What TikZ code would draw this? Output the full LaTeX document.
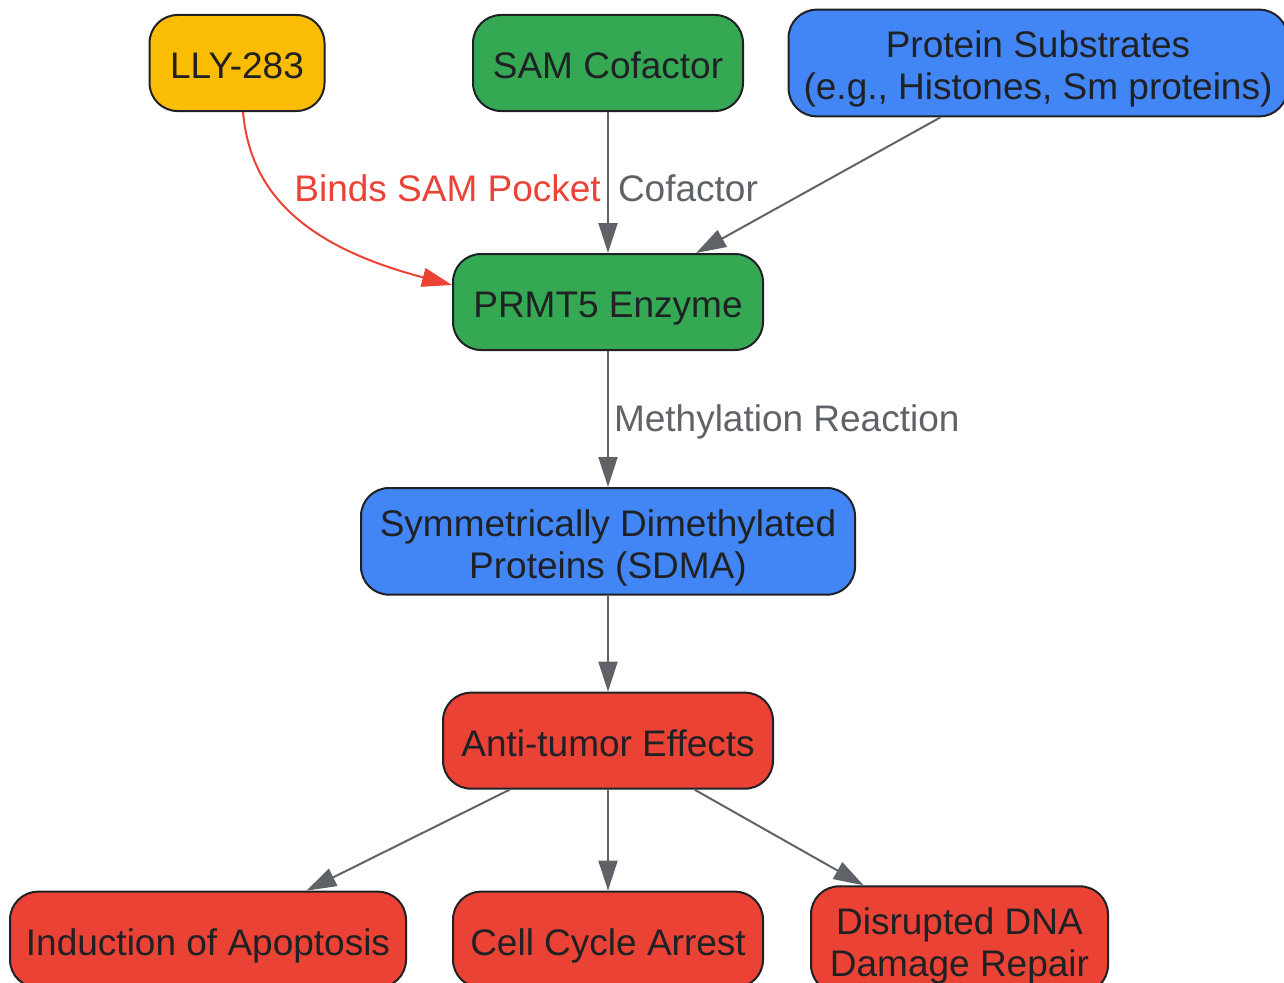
\documentclass[tikz,border=0pt]{standalone}
\usepackage{fontspec}
\setmainfont{Liberation Sans}
\usetikzlibrary{arrows.meta,positioning}
\definecolor{gyellow}{HTML}{FBBC04}
\definecolor{ggreen}{HTML}{34A853}
\definecolor{gblue}{HTML}{4285F4}
\definecolor{gred}{HTML}{EA4335}
\definecolor{ggray}{HTML}{5F6368}
\definecolor{gdark}{HTML}{202124}
\newcommand{\firststrut}{\rule{0pt}{39pt}}

\begin{document}
\begin{tikzpicture}[
x = 1pt, y = -1pt,
stepbox/.style={rectangle, align = center,
draw = gdark, line width = 2pt, text = gdark,
rounded corners = 28pt, minimum height = 96pt,
inner xsep = 15pt, inner ysep = 9pt,
font = \fontsize{37}{42}\selectfont},
oneline/.style={text height = 31pt, text depth = 0pt},
yellowbox/.style={stepbox, fill = gyellow},
greenbox/.style={stepbox, fill = ggreen},
bluebox/.style={stepbox, fill = gblue},
redbox/.style={stepbox, fill = gred},
flowarr/.style={-{Triangle[length=30pt, width=19pt]}, line width = 2pt, draw = ggray},
inhibarr/.style={flowarr, draw = gred},
edgelbl/.style={font = \fontsize{37}{42}\selectfont, inner sep = 0pt, text = ggray}]

\useasboundingbox (0,0) rectangle (1284,982);

% top row
\node[yellowbox, oneline, minimum width = 175pt] (LLY) at (237,63) {LLY-283};
\node[greenbox, oneline, minimum width = 270pt] (SAM) at (608,63) {SAM Cofactor};
\node[bluebox, minimum width = 498pt] (PS) at (1038,63) {\firststrut Protein Substrates\\(e.g., Histones, Sm proteins)};

% enzyme and product
\node[greenbox, oneline, minimum width = 310pt, below = 141pt of SAM] (PR) {PRMT5 Enzyme};
\node[bluebox, minimum width = 494pt, below = 136pt of PR] (SD) {\firststrut Symmetrically Dimethylated\\Proteins (SDMA)};
\node[redbox, oneline, minimum width = 330pt, below = 96pt of SD] (AT) {Anti-tumor Effects};

% outcomes
\node[redbox, oneline, minimum width = 310pt, below = 101pt of AT] (CC) {Cell Cycle Arrest};
\node[redbox, oneline, minimum width = 396pt, left = 45pt of CC] (AP) {Induction of Apoptosis};
\node[redbox, minimum width = 297pt, right = 46pt of CC] (DR) {\firststrut Disrupted DNA\\Damage Repair};

\draw[inhibarr] ([xshift=6pt]LLY.south) .. controls (250,190) and (300,245) .. ([yshift=17pt]PR.west);
\node[edgelbl, text = gred, anchor = east] (BSP) at (601,188) {Binds SAM Pocket};
\draw[flowarr] (SAM) -- node[edgelbl, pos = 0.54, anchor = west, xshift = 9pt] {Cofactor} (PR);
\draw[flowarr] (PS) -- (PR);
\draw[flowarr] (PR) -- node[edgelbl, pos = 0.52, anchor = west, xshift = 5pt] {Methylation Reaction} (SD);
\draw[flowarr] (SD) -- (AT);
\draw[flowarr] (AT) -- (AP);
\draw[flowarr] (AT) -- (CC);
\draw[flowarr] (AT) -- (DR);

\end{tikzpicture}
\end{document}
